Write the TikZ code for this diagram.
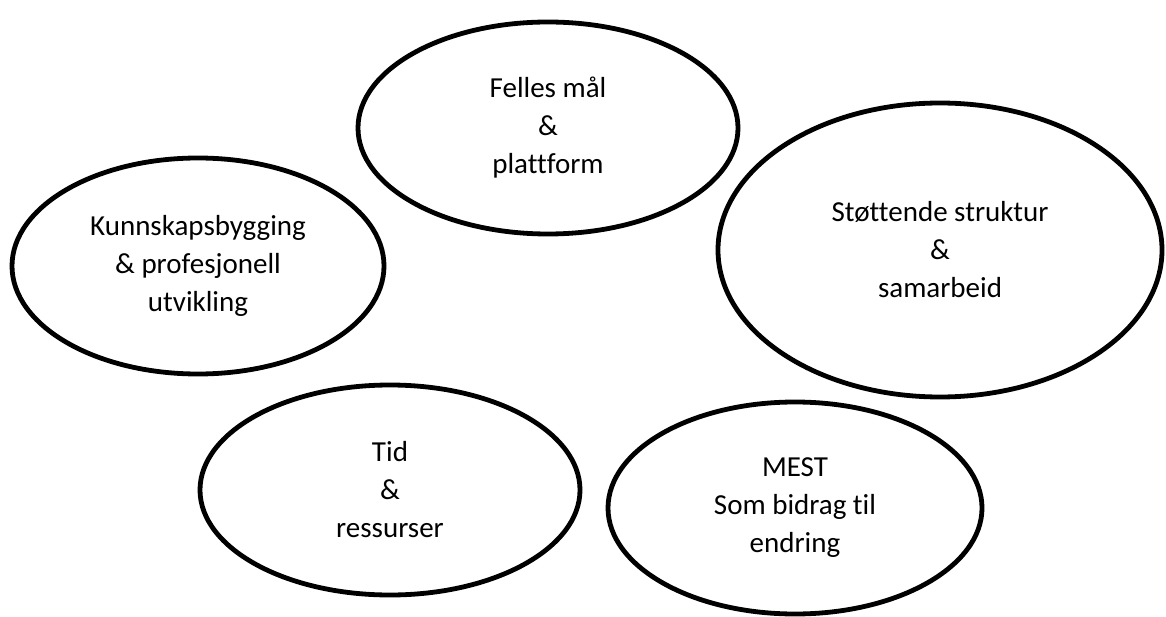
\documentclass[tikz,border=0pt]{standalone}
\usepackage{fontspec}
\setmainfont[Ligatures=NoCommon]{Carlito}
\usetikzlibrary{shapes.geometric}
\begin{document}
\begin{tikzpicture}[x=1pt,y=-1pt,
  blob/.style={draw=black, line width=4.8pt, ellipse, inner sep=0pt, align=center,
    font=\fontsize{29}{38}\selectfont}]
\useasboundingbox (0,0) rectangle (1166,617);
\fill[white] (0,0) rectangle (1166,617);
\node[blob, minimum width=380pt, minimum height=212pt] (felles) at (548,128) {Felles mål\\\&\\plattform};
\node[blob, minimum width=372pt, minimum height=216pt] (kunnskap) at (198,266) {Kunnskapsbygging\\\& profesjonell\\utvikling};
\node[blob, minimum width=444pt, minimum height=294pt] (stotte) at (940,250) {Støttende struktur\\\&\\samarbeid};
\node[blob, minimum width=380pt, minimum height=210pt] (tid) at (390,490) {Tid\\\&\\ressurser};
\node[blob, minimum width=374pt, minimum height=212pt] (mest) at (795,508) {MEST\\Som bidrag til\\endring};
\end{tikzpicture}
\end{document}
